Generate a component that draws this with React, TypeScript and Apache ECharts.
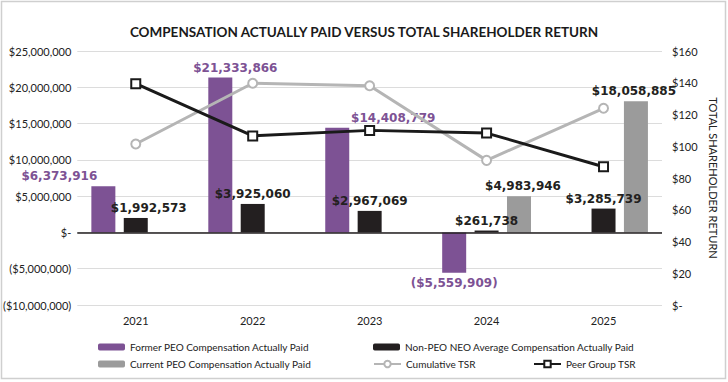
import React, { useEffect, useRef } from "react";
import * as echarts from "echarts";

const categories = ["2021", "2022", "2023", "2024", "2025"];
const formerPeo: (number | null)[] = [6373916, 21333866, 14408779, -5559909, null];
const nonPeoNeo: (number | null)[] = [1992573, 3925060, 2967069, 261738, 3285739];
const currentPeo: (number | null)[] = [null, null, null, 4983946, 18058885];
const cumulativeTsr = [101.4, 139.7, 138.1, 91.1, 123.9];
const peerGroupTsr = [139.4, 106.5, 110.0, 108.3, 87.1];

const formerLabelShift = [-44, 15, 56, 0, 0];
const nonPeoLabelShift = [13, 0, 0, 0, 0];
const currentLabelShift = [0, 0, 0, 4, -2];

const PURPLE = "#7d5294";
const BLACK = "#231f20";
const GRAY = "#9b9b9b";
const LIGHT = "#b5b5b5";
const AXIS_FONT = "Lato, 'Open Sans', sans-serif";
const LABEL_FONT = "'DejaVu Sans', sans-serif";

const money = (v: number) => {
  if (v === 0) return "$-";
  const s = Math.abs(v).toLocaleString("en-US");
  return v < 0 ? `($${s})` : `$${s}`;
};

function barData(values: (number | null)[], shifts: number[]) {
  return values.map((v, i) =>
    v === null
      ? null
      : {
          value: v,
          label: { offset: [shifts[i], 0], position: v < 0 ? "bottom" : "top" },
        }
  );
}

export default function App() {
  const ref = useRef<HTMLDivElement>(null);
  useEffect(() => {
    if (!ref.current) return;
    const chart = echarts.init(ref.current, null, { renderer: "svg" });
    const barLabel = (color: string) => ({
      show: true,
      position: "top",
      distance: 4,
      color,
      fontFamily: LABEL_FONT,
      fontWeight: "bold",
      fontSize: 12,
      formatter: (p: any) => money(p.value),
    });
    const legendText = { fontFamily: AXIS_FONT, fontSize: 10, color: "#222" };
    const mkLegend = (name: string, left: number, top: number) => ({
      data: [name],
      left,
      top,
      itemWidth: 27,
      itemHeight: 7,
      itemGap: 0,
      textStyle: legendText,
      selectedMode: false,
    });
    chart.setOption({
      animation: false,
      backgroundColor: "#fff",
      title: {
        text: "COMPENSATION ACTUALLY PAID VERSUS TOTAL SHAREHOLDER RETURN",
        left: "center",
        top: 20,
        textStyle: {
          fontFamily: AXIS_FONT,
          fontWeight: "bold",
          fontSize: 13.5,
          color: "#1a1a1a",
        },
      },
      graphic: [
        {
          type: "rect",
          shape: { x: 1.5, y: 1.5, width: 724, height: 377 },
          style: { fill: "none", stroke: "#cfcfcf", lineWidth: 1.5 },
          silent: true,
        },
      ],
      legend: [
        mkLegend("Former PEO Compensation Actually Paid", 93, 337),
        mkLegend("Non-PEO NEO Average Compensation Actually Paid", 368, 337),
        mkLegend("Current PEO Compensation Actually Paid", 93, 354),
        { ...mkLegend("Cumulative TSR", 368, 354), itemHeight: 8 },
        { ...mkLegend("Peer Group TSR", 528, 354), itemHeight: 8 },
      ],
      grid: { left: 74, right: 66, top: 51, bottom: 77 },
      xAxis: {
        type: "category",
        data: categories,
        axisLine: { show: false, onZero: false },
        axisTick: { show: false },
        axisLabel: {
          margin: 10,
          fontFamily: AXIS_FONT,
          fontSize: 11,
          color: "#222",
        },
      },
      yAxis: [
        {
          type: "value",
          min: -10000000,
          max: 25000000,
          interval: 5000000,
          axisLine: { show: false },
          axisTick: { show: false },
          splitLine: { lineStyle: { color: "#dcdcdc", width: 1 } },
          axisLabel: {
            margin: 6,
            fontFamily: AXIS_FONT,
            fontSize: 11,
            color: "#222",
            formatter: (v: number) => money(v),
          },
        },
        {
          type: "value",
          min: 0,
          max: 160,
          interval: 20,
          position: "right",
          axisLine: { show: false },
          axisTick: { show: false },
          splitLine: { show: false },
          name: "TOTAL SHAREHOLDER RETURN",
          nameLocation: "middle",
          nameRotate: -90,
          nameGap: 46,
          nameTextStyle: { fontFamily: AXIS_FONT, fontSize: 11, color: "#222" },
          axisLabel: {
            margin: 10,
            fontFamily: AXIS_FONT,
            fontSize: 11,
            color: "#222",
            formatter: (v: number) => (v === 0 ? "$-" : `$${v}`),
          },
        },
      ],
      series: [
        {
          name: "Former PEO Compensation Actually Paid",
          type: "bar",
          yAxisIndex: 0,
          barWidth: 24,
          barGap: "35%",
          itemStyle: { color: PURPLE },
          label: barLabel(PURPLE),
          data: barData(formerPeo, formerLabelShift),
          markLine: {
            silent: true,
            symbol: "none",
            label: { show: false },
            lineStyle: { color: BLACK, width: 1.5, type: "solid" },
            data: [{ yAxis: 0 }],
          },
        },
        {
          name: "Non-PEO NEO Average Compensation Actually Paid",
          type: "bar",
          yAxisIndex: 0,
          barWidth: 24,
          barGap: "35%",
          itemStyle: { color: BLACK },
          label: barLabel(BLACK),
          data: barData(nonPeoNeo, nonPeoLabelShift),
        },
        {
          name: "Current PEO Compensation Actually Paid",
          type: "bar",
          yAxisIndex: 0,
          barWidth: 24,
          barGap: "35%",
          itemStyle: { color: GRAY },
          label: barLabel(BLACK),
          data: barData(currentPeo, currentLabelShift),
        },
        {
          name: "Cumulative TSR",
          type: "line",
          yAxisIndex: 1,
          z: 5,
          symbol: "circle",
          symbolSize: 9,
          lineStyle: { color: LIGHT, width: 3 },
          itemStyle: { color: "#fff", borderColor: LIGHT, borderWidth: 2 },
          data: cumulativeTsr,
        },
        {
          name: "Peer Group TSR",
          type: "line",
          yAxisIndex: 1,
          z: 6,
          symbol: "rect",
          symbolSize: 9,
          lineStyle: { color: "#1a1a1a", width: 3 },
          itemStyle: { color: "#fff", borderColor: "#1a1a1a", borderWidth: 2 },
          data: peerGroupTsr,
        },
      ],
    });
    return () => chart.dispose();
  }, []);
  return (
    <div
      ref={ref}
      style={{ position: "fixed", left: 0, top: 0, width: 728, height: 382 }}
    />
  );
}
